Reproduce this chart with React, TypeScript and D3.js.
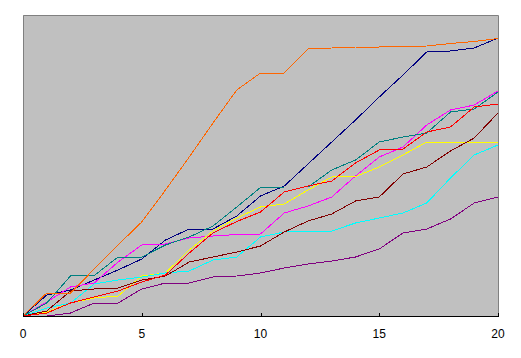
import React from "react";
import * as d3 from "d3";

const xValues = d3.range(0, 21);
const xTicks = [0, 5, 10, 15, 20];

const orange = [0, 23, 23, 47, 71, 94, 126, 159, 193, 226, 243, 243, 267, 268, 269, 269, 269.5, 270, 272.5, 274.5, 277.5];
const navy = [0, 21, 26, 36, 46, 57, 76, 87, 87, 100, 120, 130, 152, 174, 196, 219, 241, 264, 265, 268, 278];
const teal = [0, 13, 40, 40.5, 59, 59, 71, 79, 90, 109, 128.5, 129, 129, 146, 156, 174, 179, 183, 204, 207, 224];
const magenta = [0, 14, 29, 33, 54, 71, 72, 78, 80, 81.5, 82, 103, 110, 119, 140, 159, 169, 191, 206, 211, 225];
const red = [0, 3, 13, 19, 25, 34, 41, 63, 83, 94.5, 104, 124, 130, 135, 153, 166, 167, 184, 189, 209, 212];
const yellow = [0, 4, 13, 18, 20, 40, 43, 66, 85, 98, 109, 112, 126, 139, 139.5, 149, 161, 174, 174, 174, 174];
const maroon = [0, 5, 25, 27, 28, 36, 40, 54, 59, 64, 70, 84, 95, 102, 115, 119, 142, 149, 165, 178, 203];
const cyan = [0, 8, 13, 32, 36, 39, 43, 45, 56, 59, 79, 84, 85, 85, 93, 98, 103, 113, 138, 161, 171];
const purple = [0, 0, 3, 13, 13, 27, 33, 33, 39, 40, 43, 48, 52, 55, 59, 67, 83, 87, 97, 113, 119];

const seriesList = [
  { name: "navy", values: navy, color: "#000080" },
  { name: "magenta", values: magenta, color: "#FF00FF" },
  { name: "yellow", values: yellow, color: "#FFFF00" },
  { name: "cyan", values: cyan, color: "#00FFFF" },
  { name: "purple", values: purple, color: "#800080" },
  { name: "maroon", values: maroon, color: "#800000" },
  { name: "teal", values: teal, color: "#008080" },
  { name: "red", values: red, color: "#FF0000" },
  { name: "orange", values: orange, color: "#FF6600" },
];

export default function App() {
  const left = 23;
  const right = 498;
  const top = 15;
  const bottom = 316;
  const x = d3.scaleLinear().domain([0, 20]).range([left, right]);
  const y = d3.scaleLinear().domain([0, 300]).range([bottom, bottom - 300]);
  const line = d3
    .line<number>()
    .x((_, i) => x(xValues[i]))
    .y((d) => y(d));

  return (
    <svg
      width={521}
      height={358}
      style={{ position: "absolute", left: 0, top: 0, background: "#fff" }}
    >
      <rect x={left} y={top} width={right - left} height={bottom - top} fill="#C0C0C0" />
      <path
        d={`M${left + 0.5},${bottom}V${top + 0.5}H${right + 0.5}V${bottom}`}
        fill="none"
        stroke="#808080"
        strokeWidth={1}
      />
      {seriesList.map((s) => (
        <path
          key={s.name}
          d={line(s.values) || ""}
          fill="none"
          stroke={s.color}
          strokeWidth={1}
          shapeRendering="crispEdges"
        />
      ))}
      <line x1={left} x2={right + 1} y1={bottom + 0.5} y2={bottom + 0.5} stroke="#000" strokeWidth={1} />
      {xTicks.map((t) => (
        <g key={t}>
          <line
            x1={Math.round(x(t)) + 0.5}
            x2={Math.round(x(t)) + 0.5}
            y1={bottom - 3}
            y2={bottom}
            stroke="#000"
            strokeWidth={1}
          />
          <text
            x={x(t)}
            y={338}
            textAnchor="middle"
            fontFamily="Arial, 'Liberation Sans', sans-serif"
            fontSize={12}
            fill="#000"
          >
            {t}
          </text>
        </g>
      ))}
    </svg>
  );
}
